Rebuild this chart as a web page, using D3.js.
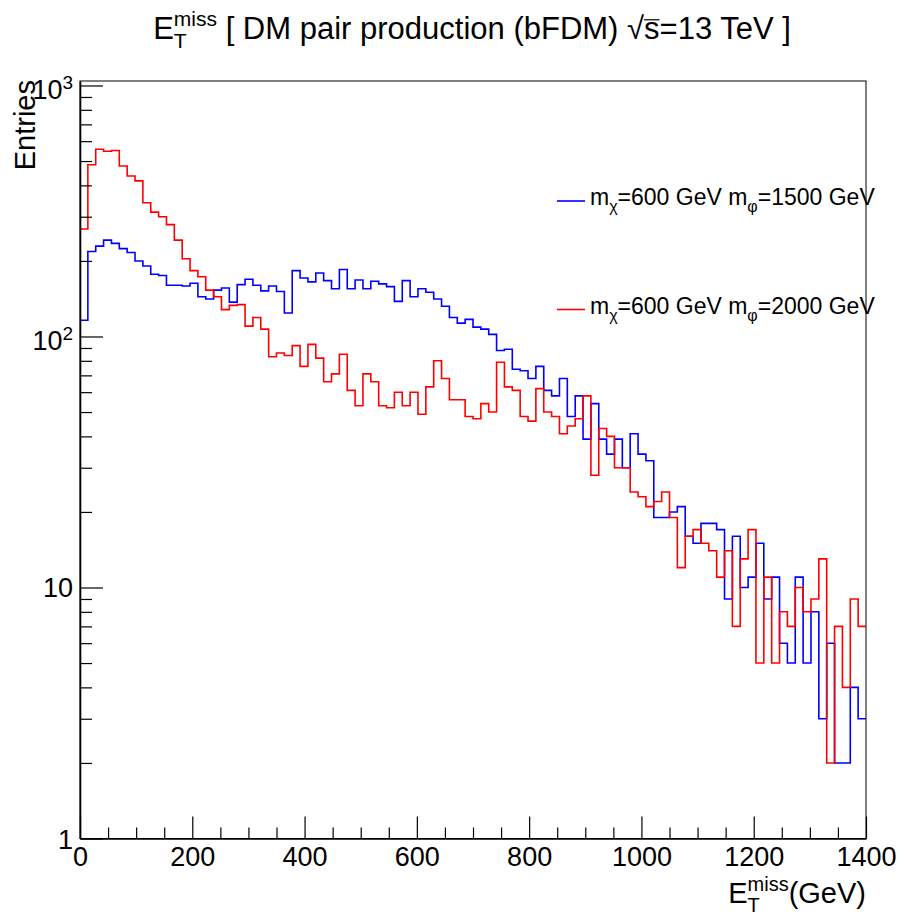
<!DOCTYPE html>
<html>
<head>
<meta charset="utf-8">
<script src="https://cdn.jsdelivr.net/npm/d3@7"></script>
<style>
  body { margin: 0; background: #fff; }
  text { font-family: "Liberation Sans", Arial, Helvetica, sans-serif; white-space: pre; fill: #000; }
</style>
</head>
<body>
<svg id="chart" width="904" height="916"></svg>
<script>
// Missing transverse energy histograms, 100 bins of 14 GeV between 0 and 1400 GeV
const binWidth = 14;
const xMax = 1400;
const xMajorTicks = [0, 200, 400, 600, 800, 1000, 1200, 1400];
const yMajorTicks = [1, 10, 100, 1000];
const yTickBase = ["1", "10", "10", "10"];
const yTickExp = ["", "", "2", "3"];

// m_chi = 600 GeV, m_phi = 1500 GeV
const entriesPhi1500 = [
  116, 218, 229, 242, 235, 224, 216, 200, 191, 177,
  175, 160, 160, 159, 163, 144, 141, 153, 156, 137,
  161, 169, 160, 152, 159, 151, 124, 183, 171, 165,
  179, 167, 155, 185, 155, 168, 155, 166, 162, 158,
  138, 167, 144, 155, 150, 141, 132, 119, 113, 117,
  109, 107, 102, 88, 89, 74, 73, 68, 76, 61,
  58, 68, 48, 58, 39, 54, 39, 34, 39, 30,
  41, 34, 32, 19, 19, 20, 21, 16, 15, 18,
  18, 17, 9, 16, 10, 11, 15, 9, 11, 6,
  5, 11, 5, 8, 3, 6, 2, 2, 4, 3
];

// m_chi = 600 GeV, m_phi = 2000 GeV
const entriesPhi2000 = [
  268, 483, 557, 547, 551, 478, 436, 417, 341, 313,
  300, 279, 242, 204, 183, 173, 153, 144, 128, 133,
  134, 110, 119, 107, 83, 86, 84, 92, 76, 93,
  82, 66, 71, 85, 61, 53, 71, 66, 53, 52,
  60, 53, 60, 49, 63, 80, 68, 56, 56, 48,
  47, 54, 50, 79, 63, 61, 48, 46, 62, 50,
  48, 41, 44, 47, 58, 28, 43, 40, 30, 30,
  24, 23, 21, 22, 24, 19, 12, 16, 17, 15,
  14, 11, 14, 7, 13, 17, 5, 11, 5, 8,
  7, 10, 8, 9, 13, 2, 7, 4, 9, 7
];

const seriesColors = ["#0000ff", "#ff0000"];
const seriesMphi = ["1500", "2000"];
const seriesMchi = ["600", "600"];

// ---- layout ----
const frame = { left: 80, right: 866, top: 81, bottom: 838.5 };
const yMax = 1042;

const svg = d3.select("#chart");
const x = d3.scaleLinear().domain([0, xMax]).range([frame.left, frame.right]);
const y = d3.scaleLog().domain([1, yMax]).range([frame.bottom, frame.top]);

// Text made of pieces with sub/superscripts; pieces flagged "stack" share the x of the previous one
function richText(parent, x0, y0, pieces, anchor) {
  const g = parent.append("g");
  let cursor = 0, lastX = 0;
  pieces.forEach(p => {
    const t = g.append("text")
      .attr("font-size", p.size)
      .attr("y", y0 + (p.dy || 0))
      .text(p.t);
    const w = t.node().getComputedTextLength();
    let px;
    if (p.stack) { px = lastX; cursor = Math.max(cursor, lastX + w); }
    else { px = cursor; cursor += w; }
    t.attr("x", px);
    if (p.over) {
      g.append("line").attr("x1", px).attr("x2", px + w)
        .attr("y1", y0 + (p.dy || 0) - p.size * 0.62).attr("y2", y0 + (p.dy || 0) - p.size * 0.62)
        .attr("stroke", "#000").attr("stroke-width", 1.2);
    }
    lastX = px;
  });
  const shift = anchor === "middle" ? -cursor / 2 : anchor === "end" ? -cursor : 0;
  g.attr("transform", `translate(${x0 + shift},0)`);
  return g;
}

// ---- frame ----
svg.append("rect")
  .attr("x", frame.left).attr("y", frame.top)
  .attr("width", frame.right - frame.left).attr("height", frame.bottom - frame.top)
  .attr("fill", "none").attr("stroke", "#000").attr("stroke-width", 1);

// ---- histograms ----
svg.append("clipPath").attr("id", "plotClip")
  .append("rect")
  .attr("x", frame.left).attr("y", frame.top)
  .attr("width", frame.right - frame.left).attr("height", frame.bottom - frame.top);

const step = d3.line()
  .x(d => x(d[0]))
  .y(d => y(d[1]))
  .curve(d3.curveStepAfter);

function stepPoints(counts) {
  const pts = counts.map((v, i) => [i * binWidth, v]);
  pts.push([counts.length * binWidth, counts[counts.length - 1]]);
  return pts;
}

const histG = svg.append("g").attr("clip-path", "url(#plotClip)");
[entriesPhi1500, entriesPhi2000].forEach((counts, k) => {
  histG.append("path")
    .attr("d", step(stepPoints(counts)))
    .attr("fill", "none")
    .attr("stroke", seriesColors[k])
    .attr("stroke-width", 1.6);
});

// ---- x axis ----
const xAxisG = svg.append("g").attr("transform", `translate(0,${frame.bottom})`);
xAxisG.call(d3.axisBottom(x).tickValues(xMajorTicks).tickSizeInner(-22).tickSizeOuter(0)
  .tickPadding(8).tickFormat(d3.format("d")));
xAxisG.select(".domain").attr("stroke-width", 1.6);
xAxisG.selectAll(".tick line").attr("stroke-width", 1.2);
xAxisG.selectAll(".tick text")
  .attr("font-size", 27)
  .attr("font-family", "Liberation Sans, Arial, sans-serif");

const xMinor = d3.range(0, xMax + 1, 50).filter(v => !xMajorTicks.includes(v));
const xMinorG = svg.append("g").attr("transform", `translate(0,${frame.bottom})`);
xMinorG.call(d3.axisBottom(x).tickValues(xMinor).tickSizeInner(-11).tickSizeOuter(0).tickFormat(""));
xMinorG.select(".domain").remove();
xMinorG.selectAll(".tick line").attr("stroke-width", 1.2);

// ---- y axis ----
const yAxisG = svg.append("g").attr("transform", `translate(${frame.left},0)`);
yAxisG.call(d3.axisLeft(y).tickValues(yMajorTicks).tickSizeInner(-23).tickSizeOuter(0).tickFormat(""));
yAxisG.select(".domain").attr("stroke-width", 1.6);
yAxisG.selectAll(".tick line").attr("stroke-width", 1.2);

const yMinor = [];
[1, 10, 100].forEach(dec => d3.range(2, 10).forEach(m => yMinor.push(dec * m)));
const yMinorG = svg.append("g").attr("transform", `translate(${frame.left},0)`);
yMinorG.call(d3.axisLeft(y).tickValues(yMinor).tickSizeInner(-12).tickSizeOuter(0).tickFormat(""));
yMinorG.select(".domain").remove();
yMinorG.selectAll(".tick line").attr("stroke-width", 1.2);

yMajorTicks.forEach((v, i) => {
  const hasExp = yTickExp[i] !== "";
  const t = svg.append("text")
    .attr("x", frame.left - 7)
    .attr("y", y(v) + (hasExp ? 14 : 10))
    .attr("text-anchor", "end")
    .attr("font-size", 27);
  t.append("tspan").text(yTickBase[i]);
  if (hasExp) t.append("tspan").attr("dy", -10).attr("font-size", 19).text(yTickExp[i]);
});

// ---- axis titles ----
svg.append("text")
  .attr("transform", `translate(35,${frame.top - 1}) rotate(-90)`)
  .attr("text-anchor", "end")
  .attr("font-size", 29)
  .text("Entries");

richText(svg, frame.right, 903, [
  { t: "E", size: 29 },
  { t: "T", size: 20, dy: 9 },
  { t: "miss", size: 20, dy: -12, stack: true },
  { t: "(GeV)", size: 29 }
], "end");

// ---- title ----
richText(svg, 472, 39, [
  { t: "E", size: 31 },
  { t: "T", size: 21, dy: 9 },
  { t: "miss", size: 21, dy: -13, stack: true },
  { t: " [ DM pair production (bFDM) ", size: 31 },
  { t: "\u221A", size: 31 },
  { t: "s", size: 31, over: true },
  { t: "=13 TeV ]", size: 31 }
], "middle");

// ---- legend ----
const legendTop = 201, legendGap = 108.5;
seriesColors.forEach((c, k) => {
  const ly = legendTop + k * legendGap;
  svg.append("line")
    .attr("x1", 557).attr("x2", 585).attr("y1", ly).attr("y2", ly)
    .attr("stroke", c).attr("stroke-width", 1.6);
  richText(svg, 590, ly + 4, [
    { t: "m", size: 23 },
    { t: "\u03C7", size: 16, dy: 7 },
    { t: "=" + seriesMchi[k] + " GeV m", size: 23 },
    { t: "\u03C6", size: 16, dy: 7 },
    { t: "=" + seriesMphi[k] + " GeV", size: 23 }
  ], "start");
});
</script>
</body>
</html>
